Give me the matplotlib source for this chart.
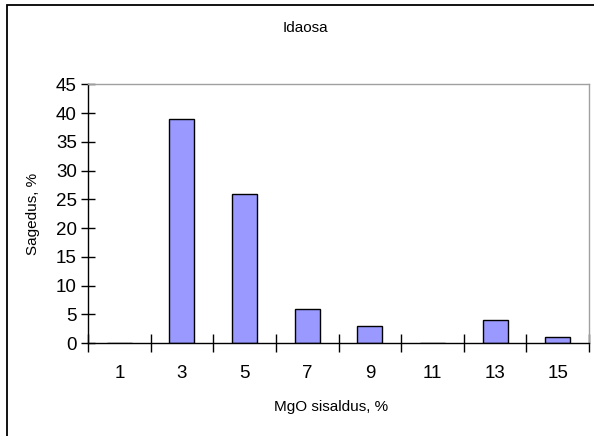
import matplotlib.pyplot as plt
from matplotlib.patches import Rectangle
import numpy as np

plt.rcParams['font.family'] = ['Liberation Sans', 'DejaVu Sans']

# MgO klassid ja sagedused
klassid = ['1', '3', '5', '7', '9', '11', '13', '15']
sagedus = [0, 39, 26, 6, 3, 0, 4, 1]

W, H = 594, 436
fig = plt.figure(figsize=(W / 100, H / 100), dpi=100)

# raam ümber diagrammi (jookseb pildist välja paremalt ja alt)
fig.patches.append(Rectangle((7 / W, -0.05), 1.2, 1.05 - 5.5 / H, transform=fig.transFigure,
                             fill=False, edgecolor='black', linewidth=1.3))

ax = fig.add_axes([88 / W, 1 - 343 / H, (589 - 88) / W, (343 - 84.5) / H])
x = np.arange(len(klassid))
ax.bar(x, sagedus, width=0.4, color='#9999FF', edgecolor='black', linewidth=1)

ax.set_xlim(-0.5, len(klassid) - 0.5)
ax.set_ylim(0, 45)
ax.set_yticks(range(0, 46, 5))
ax.set_xticks(x)
ax.set_xticklabels(klassid)
ax.set_xticks(np.arange(-0.5, len(klassid), 1), minor=True)

ax.tick_params(axis='x', which='major', length=0, pad=16, labelsize=13.5)
ax.tick_params(axis='x', which='minor', direction='inout', length=13, width=1)
ax.tick_params(axis='y', direction='inout', length=10, width=1, pad=3, labelsize=13.5)

for s in ['left', 'bottom']:
    ax.spines[s].set_color('black')
    ax.spines[s].set_linewidth(1)
for s in ['top', 'right']:
    ax.spines[s].set_color('#a0a0a0')
    ax.spines[s].set_linewidth(1)

fig.text(305 / W, 1 - 28 / H, 'Idaosa', ha='center', va='center', fontsize=11)
fig.text(331 / W, 1 - 407 / H, 'MgO sisaldus, %', ha='center', va='center', fontsize=11)
fig.text(33 / W, 1 - 214 / H, 'Sagedus, %', ha='center', va='center', rotation=90, fontsize=11)

fig.savefig('out.png', dpi=100)
